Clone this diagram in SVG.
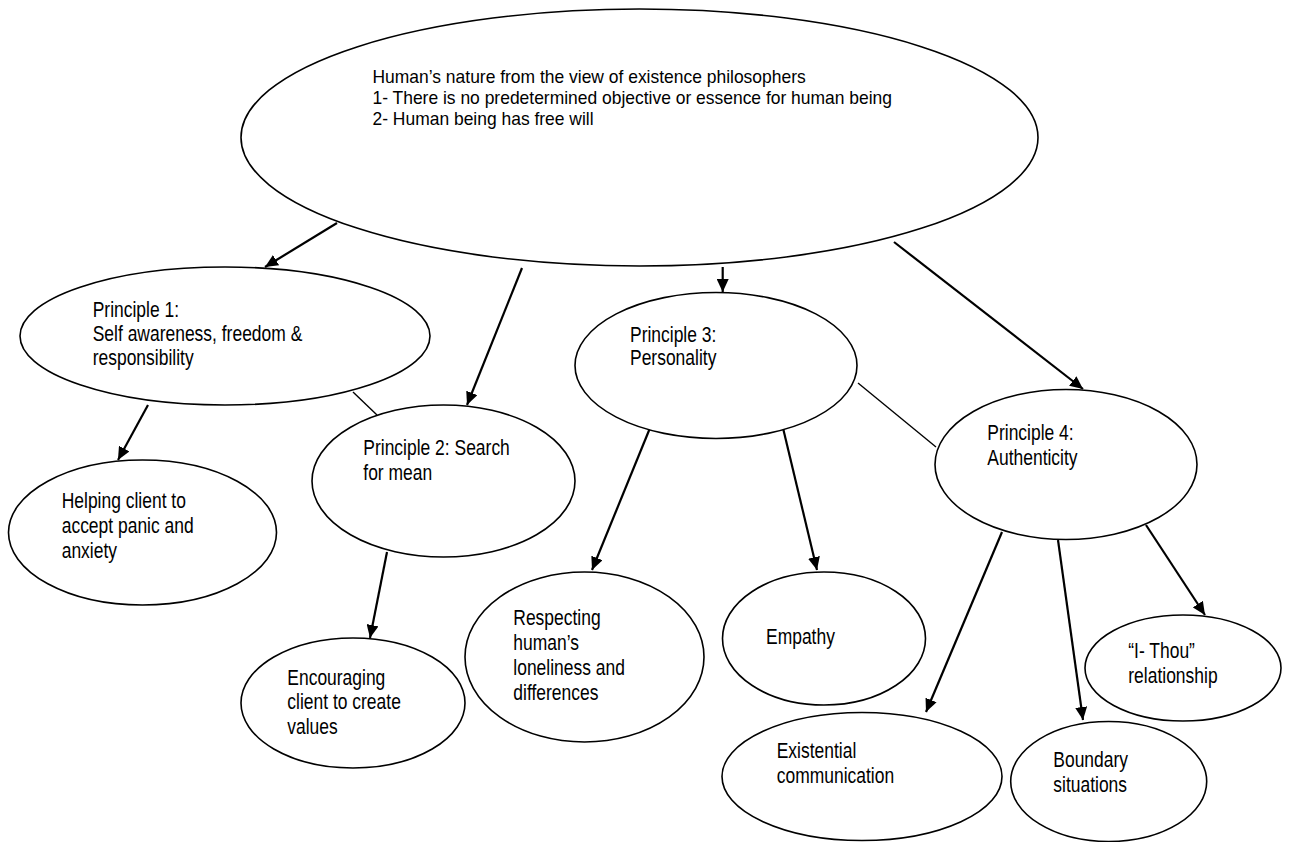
<svg xmlns="http://www.w3.org/2000/svg" width="1294" height="842" viewBox="0 0 1294 842">
<style>
.n{fill:#fff;stroke:#000;stroke-width:1.6}
.t{font-family:"Liberation Sans",Arial,sans-serif;font-size:21.3px;fill:#000}
.tt{font-family:"Liberation Sans",Arial,sans-serif;font-size:18px;fill:#000}
.a{stroke:#000;stroke-width:2.2;fill:none;marker-end:url(#ah)}
.l{stroke:#000;stroke-width:1.4;fill:none}
</style>
<defs>
<marker id="ah" markerUnits="userSpaceOnUse" markerWidth="14" markerHeight="12" refX="13" refY="6" orient="auto">
<path d="M0,0 L13,6 L0,12 z" fill="#000"/>
</marker>
</defs>
<rect width="1294" height="842" fill="#fff"/>
<g id="connectors">
<line class="a" x1="337" y1="223" x2="265" y2="267"/>
<line class="a" x1="522" y1="268" x2="467" y2="405"/>
<line class="a" x1="722.7" y1="267" x2="722.7" y2="292"/>
<line class="a" x1="894" y1="242" x2="1083" y2="389"/>
<line class="l" x1="353" y1="392" x2="377" y2="415"/>
<line class="l" x1="858" y1="383" x2="936" y2="447"/>
<line class="a" x1="148" y1="405" x2="118" y2="460"/>
<line class="a" x1="387" y1="552" x2="370" y2="638"/>
<line class="a" x1="650" y1="428" x2="592" y2="570"/>
<line class="a" x1="783" y1="428" x2="817" y2="570"/>
<line class="a" x1="1002" y1="532" x2="926" y2="712"/>
<line class="a" x1="1058" y1="540" x2="1083" y2="720"/>
<line class="a" x1="1146" y1="525" x2="1205" y2="615"/>
</g>
<g id="top">
<ellipse class="n" cx="639.5" cy="137.5" rx="398.5" ry="128.5"/>
<text class="tt" transform="translate(372.5,83) scale(0.97,1)"><tspan x="0" y="0">Human’s nature from the view of existence philosophers</tspan><tspan x="0" y="21">1- There is no predetermined objective or essence for human being</tspan><tspan x="0" y="42">2- Human being has free will</tspan></text>
</g>
<g id="p1">
<ellipse class="n" cx="225" cy="336" rx="205" ry="69"/>
<text class="t" transform="translate(92.7,317) scale(0.82,1)"><tspan x="0" y="0">Principle 1:</tspan><tspan x="0" y="24">Self awareness, freedom &amp;</tspan><tspan x="0" y="48">responsibility</tspan></text>
</g>
<g id="p2">
<ellipse class="n" cx="443.5" cy="481" rx="131.5" ry="76"/>
<text class="t" transform="translate(363.3,455) scale(0.82,1)"><tspan x="0" y="0">Principle 2: Search</tspan><tspan x="0" y="25">for mean</tspan></text>
</g>
<g id="p3">
<ellipse class="n" cx="716" cy="365.5" rx="141" ry="73"/>
<text class="t" transform="translate(630,341.7) scale(0.82,1)"><tspan x="0" y="0">Principle 3:</tspan><tspan x="0" y="23.5">Personality</tspan></text>
</g>
<g id="p4">
<ellipse class="n" cx="1066" cy="464.5" rx="131" ry="75"/>
<text class="t" transform="translate(987.3,440) scale(0.82,1)"><tspan x="0" y="0">Principle 4:</tspan><tspan x="0" y="25">Authenticity</tspan></text>
</g>
<g id="helping">
<ellipse class="n" cx="142.5" cy="532.5" rx="134" ry="72.5"/>
<text class="t" transform="translate(61.7,508.3) scale(0.82,1)"><tspan x="0" y="0">Helping client to</tspan><tspan x="0" y="25">accept panic and</tspan><tspan x="0" y="50">anxiety</tspan></text>
</g>
<g id="encouraging">
<ellipse class="n" cx="353" cy="703" rx="112" ry="65"/>
<text class="t" transform="translate(287.3,685) scale(0.82,1)"><tspan x="0" y="0">Encouraging</tspan><tspan x="0" y="24.5">client to create</tspan><tspan x="0" y="49">values</tspan></text>
</g>
<g id="respecting">
<ellipse class="n" cx="584.5" cy="657" rx="119.5" ry="85"/>
<text class="t" transform="translate(513.3,625) scale(0.82,1)"><tspan x="0" y="0">Respecting</tspan><tspan x="0" y="25">human’s</tspan><tspan x="0" y="50">loneliness and</tspan><tspan x="0" y="75">differences</tspan></text>
</g>
<g id="empathy">
<ellipse class="n" cx="824" cy="638.5" rx="101.5" ry="66.5"/>
<text class="t" transform="translate(766,644) scale(0.82,1)">Empathy</text>
</g>
<g id="ithou">
<ellipse class="n" cx="1183" cy="668" rx="98" ry="53"/>
<text class="t" transform="translate(1128.3,658.3) scale(0.82,1)"><tspan x="0" y="0">“I- Thou”</tspan><tspan x="0" y="25">relationship</tspan></text>
</g>
<g id="existential">
<ellipse class="n" cx="862" cy="776.5" rx="140" ry="64"/>
<text class="t" transform="translate(776.7,758.3) scale(0.82,1)"><tspan x="0" y="0">Existential</tspan><tspan x="0" y="25">communication</tspan></text>
</g>
<g id="boundary">
<ellipse class="n" cx="1108.7" cy="781.5" rx="98" ry="60"/>
<text class="t" transform="translate(1053.3,766.7) scale(0.82,1)"><tspan x="0" y="0">Boundary</tspan><tspan x="0" y="25">situations</tspan></text>
</g>
</svg>
